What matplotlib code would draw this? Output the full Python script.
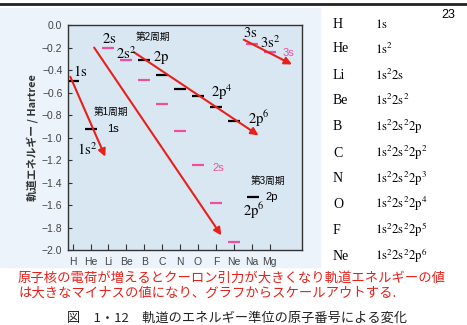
import matplotlib
matplotlib.use("Agg")
import matplotlib.pyplot as plt
from matplotlib.patches import Rectangle
from matplotlib.lines import Line2D

plt.rcParams["font.family"] = ["Liberation Sans", "Noto Sans CJK JP"]
plt.rcParams["mathtext.fontset"] = "stix"

# ---- Data (orbital energies, Hartree) ----
elements = ["H", "He", "Li", "Be", "B", "C", "N", "O", "F", "Ne", "Na", "Mg"]
z_1s = [1, 2]
e_1s = [-0.50, -0.92]
z_2s = [3, 4, 5, 6, 7, 8, 9, 10]
e_2s = [-0.20, -0.31, -0.49, -0.70, -0.94, -1.24, -1.58, -1.93]
z_2p = [5, 6, 7, 8, 9, 10]
e_2p = [-0.31, -0.44, -0.57, -0.63, -0.73, -0.85]
z_3s = [11, 12]
e_3s = [-0.17, -0.24]

# trend arrows (start, end) in data coords
arrows = [((0.87, -0.46), (2.82, -1.17)),
          ((2.2, -0.20), (9.3, -1.87)),
          ((4.41, -0.24), (11.37, -0.98)),
          ((10.55, -0.13), (13.24, -0.35))]

table_elems = ["H", "He", "Li", "Be", "B", "C", "N", "O", "F", "Ne"]
table_conf = [r"$\mathrm{1s}$", r"$\mathrm{1s^{2}}$", r"$\mathrm{1s^{2}2s}$",
              r"$\mathrm{1s^{2}2s^{2}}$", r"$\mathrm{1s^{2}2s^{2}2p}$",
              r"$\mathrm{1s^{2}2s^{2}2p^{2}}$", r"$\mathrm{1s^{2}2s^{2}2p^{3}}$",
              r"$\mathrm{1s^{2}2s^{2}2p^{4}}$", r"$\mathrm{1s^{2}2s^{2}2p^{5}}$",
              r"$\mathrm{1s^{2}2s^{2}2p^{6}}$"]

PINK = "#ee4f9f"
RED = "#e8201a"

fig = plt.figure(figsize=(4.67, 3.25), dpi=100)
fig.patches.append(Rectangle((0, 0.18), 0.685, 0.795, transform=fig.transFigure,
                             color="#ecf3fa", zorder=-5))
fig.add_artist(Line2D([0, 1], [0.988, 0.988], color="#222222", lw=2))

ax = fig.add_axes([0.1456, 0.2308, 0.501, 0.692])
ax.set_facecolor("#d9e7f3")

ms, mew = 8.6, 1.6
ax.plot(z_1s, e_1s, ls="none", marker="_", ms=ms, mew=mew, color="black")
ax.plot(z_2p, e_2p, ls="none", marker="_", ms=ms, mew=mew, color="black")
ax.plot(z_2s, e_2s, ls="none", marker="_", ms=ms, mew=mew, color=PINK)
ax.plot(z_3s, e_3s, ls="none", marker="_", ms=ms, mew=mew, color=PINK)

for (x0, y0), (x1, y1) in arrows:
    ax.annotate("", xy=(x1, y1), xytext=(x0, y0),
                arrowprops=dict(arrowstyle="-|>", color=RED, lw=1.5,
                                mutation_scale=11, shrinkA=0, shrinkB=0))

ax.set_xlim(0.74, 13.8)
ax.set_ylim(-2.0, 0.0)
ax.set_xticks(range(1, 13))
ax.set_xticklabels(elements)
ax.set_yticks([-2.0 + 0.2 * i for i in range(11)])
ax.yaxis.set_major_formatter(plt.FuncFormatter(lambda v, _: f"{v:.1f}".replace("-", "\u2212")))
ax.tick_params(axis="x", direction="in", length=4, labelsize=7.5, pad=5,
               color="#333333", labelcolor="#444444")
ax.tick_params(axis="y", direction="in", length=3, labelsize=7.5, pad=4,
               color="#333333", labelcolor="#444444")
for s in ax.spines.values():
    s.set_color("#333333")
    s.set_linewidth(1.0)
ax.set_ylabel("軌道エネルギー / Hartree", fontsize=7.8, fontweight="bold",
              color="#333333", family=["Noto Sans CJK JP"], labelpad=3)

# annotations in the plot
serif = dict(fontsize=10.5, ha="center", va="center")
ax.text(1.02, -0.41, r"$\mathrm{1s}$", ha="left", va="center", fontsize=10.5)
ax.text(1.8, -1.11, r"$\mathrm{1s^{2}}$", **serif)
ax.text(3.02, -0.125, r"$\mathrm{2s}$", **serif)
ax.text(3.97, -0.25, r"$\mathrm{2s^{2}}$", **serif)
ax.text(5.95, -0.285, r"$\mathrm{2p}$", **serif)
ax.text(9.3, -0.60, r"$\mathrm{2p^{4}}$", **serif)
ax.text(11.38, -0.83, r"$\mathrm{2p^{6}}$", **serif)
ax.text(11.13, -1.65, r"$\mathrm{2p^{6}}$", **serif)
ax.text(10.9, -0.07, r"$\mathrm{3s}$", **serif)
ax.text(12.0, -0.16, r"$\mathrm{3s^{2}}$", **serif)

cjk = ["Liberation Sans", "Noto Sans CJK JP"]
ax.text(3.16, -0.77, "第1周期", fontsize=7, ha="center", va="center", family=cjk)
ax.text(5.5, -0.107, "第2周期", fontsize=7, ha="center", va="center", family=cjk)
ax.text(11.9, -1.39, "第3周期", fontsize=7, ha="center", va="center", family=cjk)
ax.text(3.24, -0.925, "1s", fontsize=8, ha="center", va="center")
ax.text(9.13, -1.27, "2s", fontsize=8, ha="center", va="center", color=PINK)
ax.text(13.07, -0.25, "3s", fontsize=8, ha="center", va="center", color=PINK)
ax.plot([11.05], [-1.53], marker="_", ms=ms, mew=mew, color="black")
ax.text(12.1, -1.53, "2p", fontsize=8, ha="center", va="center")

# electron configuration table on the right
row_y = [24, 49, 75, 100, 127, 153, 179, 204, 230, 256]
for el, conf, py in zip(table_elems, table_conf, row_y):
    fig.text(0.713, 1 - py / 325, el, fontsize=10, family="Liberation Serif",
             va="center", ha="left")
    fig.text(0.803, 1 - py / 325, conf, fontsize=9.2, va="center", ha="left")

fig.text(448 / 467, 1 - 15 / 325, "23", fontsize=9, ha="center", va="center")

# captions
fig.text(18 / 467, 1 - 278 / 325,
         "原子核の電荷が増えるとクーロン引力が大きくなり軌道エネルギーの値",
         fontsize=9.6, color=RED, family=["Noto Sans CJK JP"], va="center")
fig.text(18 / 467, 1 - 293 / 325,
         "は大きなマイナスの値になり、グラフからスケールアウトする.",
         fontsize=9.6, color=RED, family=["Noto Sans CJK JP"], va="center")
fig.text(237 / 467, 1 - 318 / 325,
         "図　1・12　軌道のエネルギー準位の原子番号による変化",
         fontsize=9.5, color="#222222", family=["Noto Sans CJK JP"],
         ha="center", va="center")

fig.savefig("out.png", dpi=100)
